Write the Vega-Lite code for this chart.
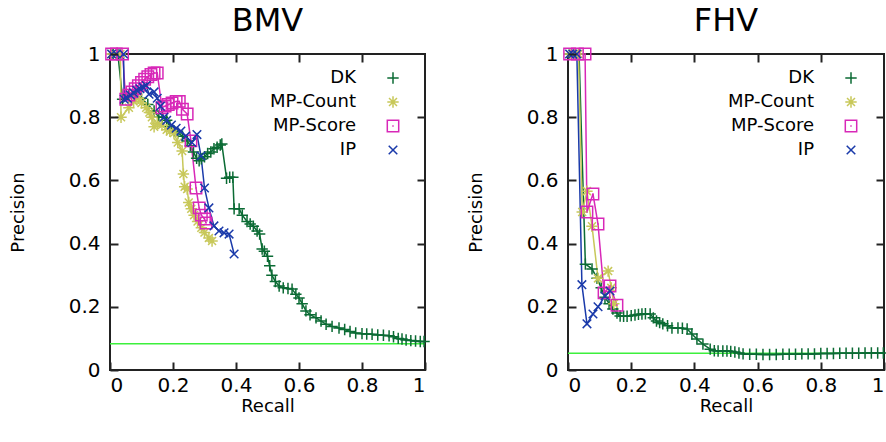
{
  "$schema": "https://vega.github.io/schema/vega-lite/v6.json",
  "background": "white",
  "padding": {"left": 8, "top": 4, "right": 2, "bottom": 2},
  "datasets": {
    "bmv": [
      {"s":"DK","r":0.01,"p":1},{"s":"DK","r":0.025,"p":1},{"s":"DK","r":0.04,"p":0.857},{"s":"DK","r":0.06,"p":0.87},{"s":"DK","r":0.08,"p":0.875},{"s":"DK","r":0.10,"p":0.86},{"s":"DK","r":0.12,"p":0.84},{"s":"DK","r":0.14,"p":0.82},{"s":"DK","r":0.155,"p":0.80},{"s":"DK","r":0.166,"p":0.80},{"s":"DK","r":0.18,"p":0.79},{"s":"DK","r":0.19,"p":0.77},{"s":"DK","r":0.203,"p":0.757},{"s":"DK","r":0.215,"p":0.75},{"s":"DK","r":0.23,"p":0.74},{"s":"DK","r":0.245,"p":0.725},{"s":"DK","r":0.255,"p":0.71},{"s":"DK","r":0.265,"p":0.69},{"s":"DK","r":0.275,"p":0.67},{"s":"DK","r":0.283,"p":0.662},{"s":"DK","r":0.29,"p":0.668},{"s":"DK","r":0.30,"p":0.675},{"s":"DK","r":0.31,"p":0.685},{"s":"DK","r":0.32,"p":0.69},{"s":"DK","r":0.33,"p":0.70},{"s":"DK","r":0.34,"p":0.705},{"s":"DK","r":0.35,"p":0.712},{"s":"DK","r":0.355,"p":0.715},{"s":"DK","r":0.37,"p":0.607},{"s":"DK","r":0.38,"p":0.61},{"s":"DK","r":0.39,"p":0.61},{"s":"DK","r":0.394,"p":0.51},{"s":"DK","r":0.41,"p":0.51},{"s":"DK","r":0.42,"p":0.49},{"s":"DK","r":0.435,"p":0.47},{"s":"DK","r":0.445,"p":0.462},{"s":"DK","r":0.455,"p":0.455},{"s":"DK","r":0.467,"p":0.44},{"s":"DK","r":0.475,"p":0.43},{"s":"DK","r":0.483,"p":0.383},{"s":"DK","r":0.49,"p":0.376},{"s":"DK","r":0.50,"p":0.36},{"s":"DK","r":0.507,"p":0.33},{"s":"DK","r":0.514,"p":0.30},{"s":"DK","r":0.525,"p":0.28},{"s":"DK","r":0.537,"p":0.266},{"s":"DK","r":0.55,"p":0.26},{"s":"DK","r":0.565,"p":0.258},{"s":"DK","r":0.578,"p":0.256},{"s":"DK","r":0.59,"p":0.24},{"s":"DK","r":0.60,"p":0.228},{"s":"DK","r":0.61,"p":0.21},{"s":"DK","r":0.622,"p":0.187},{"s":"DK","r":0.635,"p":0.175},{"s":"DK","r":0.654,"p":0.165},{"s":"DK","r":0.67,"p":0.155},{"s":"DK","r":0.686,"p":0.145},{"s":"DK","r":0.705,"p":0.138},{"s":"DK","r":0.727,"p":0.133},{"s":"DK","r":0.745,"p":0.128},{"s":"DK","r":0.762,"p":0.122},{"s":"DK","r":0.78,"p":0.117},{"s":"DK","r":0.80,"p":0.115},{"s":"DK","r":0.815,"p":0.114},{"s":"DK","r":0.832,"p":0.113},{"s":"DK","r":0.85,"p":0.111},{"s":"DK","r":0.868,"p":0.11},{"s":"DK","r":0.886,"p":0.108},{"s":"DK","r":0.90,"p":0.105},{"s":"DK","r":0.915,"p":0.10},{"s":"DK","r":0.927,"p":0.098},{"s":"DK","r":0.94,"p":0.095},{"s":"DK","r":0.955,"p":0.093},{"s":"DK","r":0.97,"p":0.092},{"s":"DK","r":0.985,"p":0.09},{"s":"DK","r":0.997,"p":0.09},
      {"s":"MP-Count","r":0.005,"p":1},{"s":"MP-Count","r":0.02,"p":1},{"s":"MP-Count","r":0.033,"p":1},{"s":"MP-Count","r":0.035,"p":0.80},{"s":"MP-Count","r":0.06,"p":0.83},{"s":"MP-Count","r":0.075,"p":0.85},{"s":"MP-Count","r":0.09,"p":0.86},{"s":"MP-Count","r":0.10,"p":0.845},{"s":"MP-Count","r":0.115,"p":0.83},{"s":"MP-Count","r":0.125,"p":0.815},{"s":"MP-Count","r":0.133,"p":0.80},{"s":"MP-Count","r":0.14,"p":0.77},{"s":"MP-Count","r":0.15,"p":0.78},{"s":"MP-Count","r":0.165,"p":0.775},{"s":"MP-Count","r":0.18,"p":0.76},{"s":"MP-Count","r":0.19,"p":0.755},{"s":"MP-Count","r":0.203,"p":0.75},{"s":"MP-Count","r":0.215,"p":0.72},{"s":"MP-Count","r":0.229,"p":0.693},{"s":"MP-Count","r":0.233,"p":0.62},{"s":"MP-Count","r":0.237,"p":0.58},{"s":"MP-Count","r":0.245,"p":0.573},{"s":"MP-Count","r":0.25,"p":0.53},{"s":"MP-Count","r":0.258,"p":0.51},{"s":"MP-Count","r":0.267,"p":0.49},{"s":"MP-Count","r":0.278,"p":0.47},{"s":"MP-Count","r":0.29,"p":0.45},{"s":"MP-Count","r":0.30,"p":0.435},{"s":"MP-Count","r":0.314,"p":0.418},{"s":"MP-Count","r":0.324,"p":0.408},
      {"s":"MP-Score","r":0.005,"p":1},{"s":"MP-Score","r":0.02,"p":1},{"s":"MP-Score","r":0.04,"p":1},{"s":"MP-Score","r":0.05,"p":0.857},{"s":"MP-Score","r":0.06,"p":0.87},{"s":"MP-Score","r":0.07,"p":0.88},{"s":"MP-Score","r":0.08,"p":0.89},{"s":"MP-Score","r":0.09,"p":0.90},{"s":"MP-Score","r":0.10,"p":0.91},{"s":"MP-Score","r":0.11,"p":0.92},{"s":"MP-Score","r":0.12,"p":0.928},{"s":"MP-Score","r":0.13,"p":0.935},{"s":"MP-Score","r":0.14,"p":0.94},{"s":"MP-Score","r":0.15,"p":0.94},{"s":"MP-Score","r":0.165,"p":0.83},{"s":"MP-Score","r":0.175,"p":0.835},{"s":"MP-Score","r":0.185,"p":0.84},{"s":"MP-Score","r":0.197,"p":0.845},{"s":"MP-Score","r":0.21,"p":0.85},{"s":"MP-Score","r":0.22,"p":0.85},{"s":"MP-Score","r":0.23,"p":0.825},{"s":"MP-Score","r":0.245,"p":0.81},{"s":"MP-Score","r":0.257,"p":0.725},{"s":"MP-Score","r":0.273,"p":0.576},{"s":"MP-Score","r":0.283,"p":0.513},{"s":"MP-Score","r":0.29,"p":0.49},{"s":"MP-Score","r":0.30,"p":0.478},{"s":"MP-Score","r":0.305,"p":0.465},
      {"s":"IP","r":0.005,"p":1},{"s":"IP","r":0.02,"p":1},{"s":"IP","r":0.043,"p":1},{"s":"IP","r":0.045,"p":0.857},{"s":"IP","r":0.055,"p":0.86},{"s":"IP","r":0.065,"p":0.87},{"s":"IP","r":0.075,"p":0.877},{"s":"IP","r":0.085,"p":0.885},{"s":"IP","r":0.095,"p":0.89},{"s":"IP","r":0.105,"p":0.895},{"s":"IP","r":0.115,"p":0.90},{"s":"IP","r":0.124,"p":0.873},{"s":"IP","r":0.14,"p":0.88},{"s":"IP","r":0.15,"p":0.86},{"s":"IP","r":0.16,"p":0.835},{"s":"IP","r":0.171,"p":0.80},{"s":"IP","r":0.18,"p":0.79},{"s":"IP","r":0.195,"p":0.775},{"s":"IP","r":0.21,"p":0.765},{"s":"IP","r":0.225,"p":0.756},{"s":"IP","r":0.24,"p":0.74},{"s":"IP","r":0.26,"p":0.72},{"s":"IP","r":0.276,"p":0.745},{"s":"IP","r":0.289,"p":0.677},{"s":"IP","r":0.30,"p":0.576},{"s":"IP","r":0.314,"p":0.513},{"s":"IP","r":0.33,"p":0.456},{"s":"IP","r":0.346,"p":0.44},{"s":"IP","r":0.362,"p":0.434},{"s":"IP","r":0.378,"p":0.43},{"s":"IP","r":0.394,"p":0.367}
    ],
    "fhv": [
      {"s":"DK","r":0.005,"p":1},{"s":"DK","r":0.02,"p":1},{"s":"DK","r":0.035,"p":1},{"s":"DK","r":0.055,"p":0.335},{"s":"DK","r":0.076,"p":0.32},{"s":"DK","r":0.092,"p":0.29},{"s":"DK","r":0.105,"p":0.26},{"s":"DK","r":0.117,"p":0.23},{"s":"DK","r":0.13,"p":0.21},{"s":"DK","r":0.142,"p":0.193},{"s":"DK","r":0.155,"p":0.18},{"s":"DK","r":0.165,"p":0.171},{"s":"DK","r":0.176,"p":0.17},{"s":"DK","r":0.187,"p":0.17},{"s":"DK","r":0.2,"p":0.172},{"s":"DK","r":0.212,"p":0.174},{"s":"DK","r":0.223,"p":0.176},{"s":"DK","r":0.234,"p":0.177},{"s":"DK","r":0.245,"p":0.178},{"s":"DK","r":0.26,"p":0.177},{"s":"DK","r":0.27,"p":0.165},{"s":"DK","r":0.28,"p":0.155},{"s":"DK","r":0.29,"p":0.15},{"s":"DK","r":0.30,"p":0.146},{"s":"DK","r":0.315,"p":0.14},{"s":"DK","r":0.329,"p":0.133},{"s":"DK","r":0.348,"p":0.133},{"s":"DK","r":0.362,"p":0.132},{"s":"DK","r":0.377,"p":0.13},{"s":"DK","r":0.392,"p":0.114},{"s":"DK","r":0.408,"p":0.098},{"s":"DK","r":0.427,"p":0.082},{"s":"DK","r":0.45,"p":0.066},{"s":"DK","r":0.463,"p":0.061},{"s":"DK","r":0.475,"p":0.06},{"s":"DK","r":0.49,"p":0.06},{"s":"DK","r":0.503,"p":0.06},{"s":"DK","r":0.515,"p":0.059},{"s":"DK","r":0.528,"p":0.057},{"s":"DK","r":0.541,"p":0.054},{"s":"DK","r":0.554,"p":0.051},{"s":"DK","r":0.575,"p":0.05},{"s":"DK","r":0.596,"p":0.05},{"s":"DK","r":0.617,"p":0.049},{"s":"DK","r":0.638,"p":0.049},{"s":"DK","r":0.659,"p":0.049},{"s":"DK","r":0.68,"p":0.05},{"s":"DK","r":0.70,"p":0.05},{"s":"DK","r":0.72,"p":0.05},{"s":"DK","r":0.74,"p":0.051},{"s":"DK","r":0.76,"p":0.051},{"s":"DK","r":0.78,"p":0.051},{"s":"DK","r":0.80,"p":0.052},{"s":"DK","r":0.82,"p":0.052},{"s":"DK","r":0.84,"p":0.052},{"s":"DK","r":0.86,"p":0.053},{"s":"DK","r":0.88,"p":0.053},{"s":"DK","r":0.90,"p":0.053},{"s":"DK","r":0.92,"p":0.053},{"s":"DK","r":0.94,"p":0.054},{"s":"DK","r":0.96,"p":0.054},{"s":"DK","r":0.98,"p":0.054},{"s":"DK","r":0.998,"p":0.054},
      {"s":"MP-Count","r":0.005,"p":1},{"s":"MP-Count","r":0.02,"p":1},{"s":"MP-Count","r":0.033,"p":1},{"s":"MP-Count","r":0.045,"p":0.50},{"s":"MP-Count","r":0.06,"p":0.566},{"s":"MP-Count","r":0.076,"p":0.455},{"s":"MP-Count","r":0.095,"p":0.29},{"s":"MP-Count","r":0.127,"p":0.313},{"s":"MP-Count","r":0.137,"p":0.26},{"s":"MP-Count","r":0.145,"p":0.21},
      {"s":"MP-Score","r":0.005,"p":1},{"s":"MP-Score","r":0.03,"p":1},{"s":"MP-Score","r":0.054,"p":1},{"s":"MP-Score","r":0.06,"p":0.50},{"s":"MP-Score","r":0.079,"p":0.557},{"s":"MP-Score","r":0.095,"p":0.462},{"s":"MP-Score","r":0.114,"p":0.244},{"s":"MP-Score","r":0.133,"p":0.266},{"s":"MP-Score","r":0.155,"p":0.205},
      {"s":"IP","r":0.005,"p":1},{"s":"IP","r":0.015,"p":1},{"s":"IP","r":0.028,"p":1},{"s":"IP","r":0.044,"p":0.27},{"s":"IP","r":0.06,"p":0.146},{"s":"IP","r":0.079,"p":0.177},{"s":"IP","r":0.095,"p":0.2},{"s":"IP","r":0.117,"p":0.234},{"s":"IP","r":0.133,"p":0.25}
    ]
  },
  "spacing": 32,
  "resolve": {
    "scale": {"color": "independent", "shape": "independent"},
    "legend": {"color": "independent", "shape": "independent"}
  },
  "hconcat": [
    {
      "title": "BMV",
      "width": 315,
      "height": 316,
      "layer": [
        {
          "data": {"values": [{"p": 0.083}]},
          "mark": {"type": "rule", "color": "#3cf03c", "strokeWidth": 1.5},
          "encoding": {"y": {"field": "p", "type": "quantitative", "scale": {"domain": [0, 1], "nice": false}, "axis": null}}
        },
        {
          "data": {"name": "bmv"},
          "mark": {"type": "line", "strokeWidth": 1.5},
          "encoding": {
            "x": {"field": "r", "type": "quantitative", "scale": {"domain": [0, 1], "nice": false}, "axis": {"orient": "bottom", "title": "Recall", "values": [0, 0.2, 0.4, 0.6, 0.8, 1], "ticks": true, "tickColor": "#222222", "tickOpacity": 1, "offset": -8, "tickSize": 8, "labelPadding": 5, "titlePadding": 2, "zindex": 1}},
            "y": {"field": "p", "type": "quantitative", "scale": {"domain": [0, 1], "nice": false}, "axis": {"orient": "left", "title": "Precision", "values": [0, 0.2, 0.4, 0.6, 0.8, 1], "ticks": true, "tickColor": "#222222", "tickOpacity": 1, "offset": -8, "tickSize": 8, "labelPadding": 10, "titlePadding": 41, "zindex": 1}},
            "color": {"field": "s", "type": "nominal", "scale": {"domain": ["DK", "MP-Count", "MP-Score", "IP"], "range": ["#0b6b34", "#c8c85a", "#d828b8", "#1a3aaa"]}, "legend": {"title": null, "orient": "none", "legendX": 132, "legendY": 15, "labelAlign": "right", "labelOffset": -46, "symbolOffset": 142}}
          }
        },
        {
          "data": {"name": "bmv"},
          "mark": {"type": "point", "filled": false, "size": 130, "strokeWidth": 1.5, "opacity": 1},
          "encoding": {
            "x": {"field": "r", "type": "quantitative", "axis": {"orient": "top", "title": null, "labels": false, "values": [0.2, 0.4, 0.6, 0.8], "ticks": true, "tickColor": "#222222", "tickOpacity": 1, "offset": -8, "tickSize": 8, "zindex": 1}},
            "y": {"field": "p", "type": "quantitative", "axis": {"orient": "right", "title": null, "labels": false, "values": [0.2, 0.4, 0.6, 0.8], "ticks": true, "tickColor": "#222222", "tickOpacity": 1, "offset": -8, "tickSize": 8, "zindex": 1}},
            "color": {"field": "s", "type": "nominal", "legend": {"title": null, "orient": "none", "legendX": 132, "legendY": 15, "labelAlign": "right", "labelOffset": -46, "symbolOffset": 142}},
            "shape": {"field": "s", "type": "nominal", "scale": {"domain": ["DK", "MP-Count", "MP-Score", "IP"], "range": ["M-1,0H1M0,-1V1", "M-1,0H1M0,-1V1M-0.7,-0.7L0.7,0.7M-0.7,0.7L0.7,-0.7", "M-1,-1H1V1H-1ZM-0.12,0H0.12", "M-0.75,-0.75L0.75,0.75M-0.75,0.75L0.75,-0.75"]}, "legend": {"title": null, "orient": "none", "legendX": 132, "legendY": 15, "labelAlign": "right", "labelOffset": -46, "symbolOffset": 142}}
          }
        }
      ],
      "resolve": {"axis": {"x": "independent", "y": "independent"}}
    },
    {
      "title": "FHV",
      "width": 316,
      "height": 316,
      "layer": [
        {
          "data": {"values": [{"p": 0.053}]},
          "mark": {"type": "rule", "color": "#3cf03c", "strokeWidth": 1.5},
          "encoding": {"y": {"field": "p", "type": "quantitative", "scale": {"domain": [0, 1], "nice": false}, "axis": null}}
        },
        {
          "data": {"name": "fhv"},
          "mark": {"type": "line", "strokeWidth": 1.5},
          "encoding": {
            "x": {"field": "r", "type": "quantitative", "scale": {"domain": [0, 1], "nice": false}, "axis": {"orient": "bottom", "title": "Recall", "values": [0, 0.2, 0.4, 0.6, 0.8, 1], "ticks": true, "tickColor": "#222222", "tickOpacity": 1, "offset": -8, "tickSize": 8, "labelPadding": 5, "titlePadding": 2, "zindex": 1}},
            "y": {"field": "p", "type": "quantitative", "scale": {"domain": [0, 1], "nice": false}, "axis": {"orient": "left", "title": "Precision", "values": [0, 0.2, 0.4, 0.6, 0.8, 1], "ticks": true, "tickColor": "#222222", "tickOpacity": 1, "offset": -8, "tickSize": 8, "labelPadding": 10, "titlePadding": 41, "zindex": 1}},
            "color": {"field": "s", "type": "nominal", "scale": {"domain": ["DK", "MP-Count", "MP-Score", "IP"], "range": ["#0b6b34", "#c8c85a", "#d828b8", "#1a3aaa"]}, "legend": {"title": null, "orient": "none", "legendX": 132, "legendY": 15, "labelAlign": "right", "labelOffset": -46, "symbolOffset": 142}}
          }
        },
        {
          "data": {"name": "fhv"},
          "mark": {"type": "point", "filled": false, "size": 130, "strokeWidth": 1.5, "opacity": 1},
          "encoding": {
            "x": {"field": "r", "type": "quantitative", "axis": {"orient": "top", "title": null, "labels": false, "values": [0.2, 0.4, 0.6, 0.8], "ticks": true, "tickColor": "#222222", "tickOpacity": 1, "offset": -8, "tickSize": 8, "zindex": 1}},
            "y": {"field": "p", "type": "quantitative", "axis": {"orient": "right", "title": null, "labels": false, "values": [0.2, 0.4, 0.6, 0.8], "ticks": true, "tickColor": "#222222", "tickOpacity": 1, "offset": -8, "tickSize": 8, "zindex": 1}},
            "color": {"field": "s", "type": "nominal", "legend": {"title": null, "orient": "none", "legendX": 132, "legendY": 15, "labelAlign": "right", "labelOffset": -46, "symbolOffset": 142}},
            "shape": {"field": "s", "type": "nominal", "scale": {"domain": ["DK", "MP-Count", "MP-Score", "IP"], "range": ["M-1,0H1M0,-1V1", "M-1,0H1M0,-1V1M-0.7,-0.7L0.7,0.7M-0.7,0.7L0.7,-0.7", "M-1,-1H1V1H-1ZM-0.12,0H0.12", "M-0.75,-0.75L0.75,0.75M-0.75,0.75L0.75,-0.75"]}, "legend": {"title": null, "orient": "none", "legendX": 132, "legendY": 15, "labelAlign": "right", "labelOffset": -46, "symbolOffset": 142}}
          }
        }
      ],
      "resolve": {"axis": {"x": "independent", "y": "independent"}}
    }
  ],
  "config": {
    "font": "DejaVu Sans",
    "view": {"stroke": "#222222", "strokeWidth": 2},
    "axis": {
      "grid": false,
      "domain": false,
      "ticks": true,
      "tickColor": "#222222",
      "tickWidth": 2,
      "format": "~g",
      "labelFontSize": 20,
      "labelColor": "#000000",
      "titleFontSize": 18,
      "titleFontWeight": "normal",
      "titleColor": "#000000"
    },
    "title": {"fontSize": 32, "fontWeight": "normal", "color": "#000000", "offset": 6},
    "legend": {
      "labelFontSize": 18,
      "labelColor": "#000000",
      "symbolSize": 130,
      "symbolStrokeWidth": 1.5,
      "rowPadding": 6
    }
  }
}
